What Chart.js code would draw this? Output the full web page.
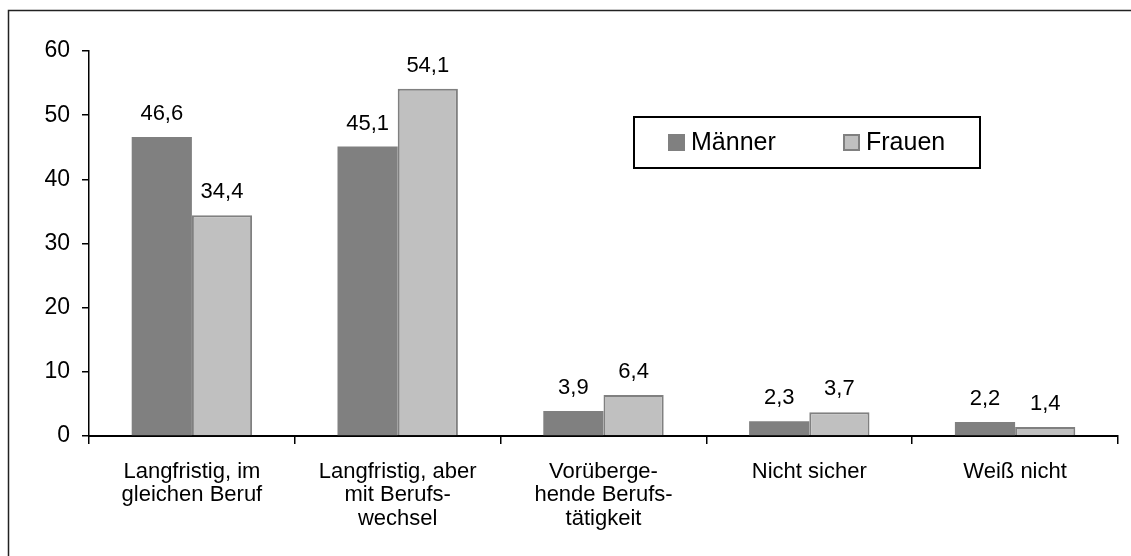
<!DOCTYPE html>
<html>
<head>
<meta charset="utf-8">
<script src="https://cdn.jsdelivr.net/npm/chart.js@4"></script>
<style>
  html, body { margin: 0; padding: 0; background: #fff; }
  #wrap { width: 1131px; height: 556px; position: relative; }
</style>
</head>
<body>
<div id="wrap"><canvas id="c" width="1131" height="556"></canvas></div>
<script>
const categories = [
  ["Langfristig, im", "gleichen Beruf"],
  ["Langfristig, aber", "mit Berufs-", "wechsel"],
  ["Vorüberge-", "hende Berufs-", "tätigkeit"],
  ["Nicht sicher"],
  ["Weiß nicht"]
];
const seriesNames = ["Männer", "Frauen"];
const maenner = [46.6, 45.1, 3.9, 2.3, 2.2];
const frauen = [34.4, 54.1, 6.4, 3.7, 1.4];
const yTicks = [0, 10, 20, 30, 40, 50, 60];

const FONT = "'Liberation Sans', Arial, sans-serif";
const DARK = '#808080';
const LIGHT = '#C0C0C0';

const frame = {
  id: 'frame',
  beforeDraw(chart) {
    const ctx = chart.ctx;
    ctx.save();
    ctx.fillStyle = '#fff';
    ctx.fillRect(0, 0, chart.width, chart.height);
    ctx.strokeStyle = '#222';
    ctx.lineWidth = 1.5;
    ctx.strokeRect(8.5, 10.5, chart.width + 10, chart.height + 10);
    ctx.restore();
  }
};

const valueLabels = {
  id: 'valueLabels',
  afterDatasetsDraw(chart) {
    const ctx = chart.ctx;
    ctx.save();
    ctx.font = "22px " + FONT;
    ctx.fillStyle = '#000';
    ctx.textAlign = 'center';
    ctx.textBaseline = 'alphabetic';
    chart.data.datasets.forEach((ds, i) => {
      const meta = chart.getDatasetMeta(i);
      meta.data.forEach((el, j) => {
        const txt = ds.data[j].toFixed(1).replace('.', ',');
        ctx.fillText(txt, el.x, el.y - 17);
      });
    });
    ctx.restore();
  }
};

const boxLegend = {
  id: 'boxLegend',
  afterDraw(chart) {
    const ctx = chart.ctx;
    ctx.save();
    ctx.strokeStyle = '#000';
    ctx.lineWidth = 2;
    ctx.strokeRect(634, 117, 346, 51);
    const cy = 142.5;
    const items = [
      { x: 668, ds: chart.data.datasets[0] },
      { x: 843, ds: chart.data.datasets[1] }
    ];
    ctx.font = "25px " + FONT;
    ctx.textBaseline = 'middle';
    ctx.textAlign = 'left';
    items.forEach(it => {
      ctx.fillStyle = it.ds.backgroundColor;
      ctx.fillRect(it.x, cy - 8.5, 17, 17);
      if (it.ds.borderWidth) {
        ctx.strokeStyle = it.ds.borderColor;
        ctx.lineWidth = 2;
        ctx.strokeRect(it.x + 1, cy - 7.5, 15, 15);
      }
      ctx.fillStyle = '#000';
      ctx.fillText(it.ds.label, it.x + 23, cy + 1);
    });
    ctx.restore();
  }
};

new Chart(document.getElementById('c'), {
  type: 'bar',
  data: {
    labels: categories,
    datasets: [
      { label: seriesNames[0], data: maenner, backgroundColor: DARK, borderWidth: 0,
        categoryPercentage: 0.585, barPercentage: 1 },
      { label: seriesNames[1], data: frauen, backgroundColor: LIGHT, borderColor: DARK, borderWidth: 2,
        categoryPercentage: 0.585, barPercentage: 1 }
    ]
  },
  options: {
    responsive: false,
    animation: false,
    devicePixelRatio: 1,
    layout: { padding: { left: 10, right: 13, top: 51, bottom: 0 } },
    plugins: { legend: { display: false }, tooltip: { enabled: false } },
    scales: {
      y: {
        min: 0, max: 60,
        afterBuildTicks(scale) { scale.ticks = yTicks.map(v => ({ value: v })); },
        afterFit(scale) { scale.width = 79; },
        ticks: { font: { size: 23, family: FONT }, color: '#000', padding: 12 },
        grid: { drawOnChartArea: false, tickLength: 7, color: '#000', lineWidth: 1.5 },
        border: { color: '#000', width: 1.5 }
      },
      x: {
        afterFit(scale) { scale.height = 120; },
        ticks: { font: { size: 22, family: FONT, lineHeight: 1.07 }, color: '#000', padding: 16, maxRotation: 0, autoSkip: false },
        grid: { offset: true, drawOnChartArea: false, tickLength: 8, color: '#000', lineWidth: 1.5 },
        border: { color: '#000', width: 2 }
      }
    }
  },
  plugins: [frame, valueLabels, boxLegend]
});
</script>
</body>
</html>
